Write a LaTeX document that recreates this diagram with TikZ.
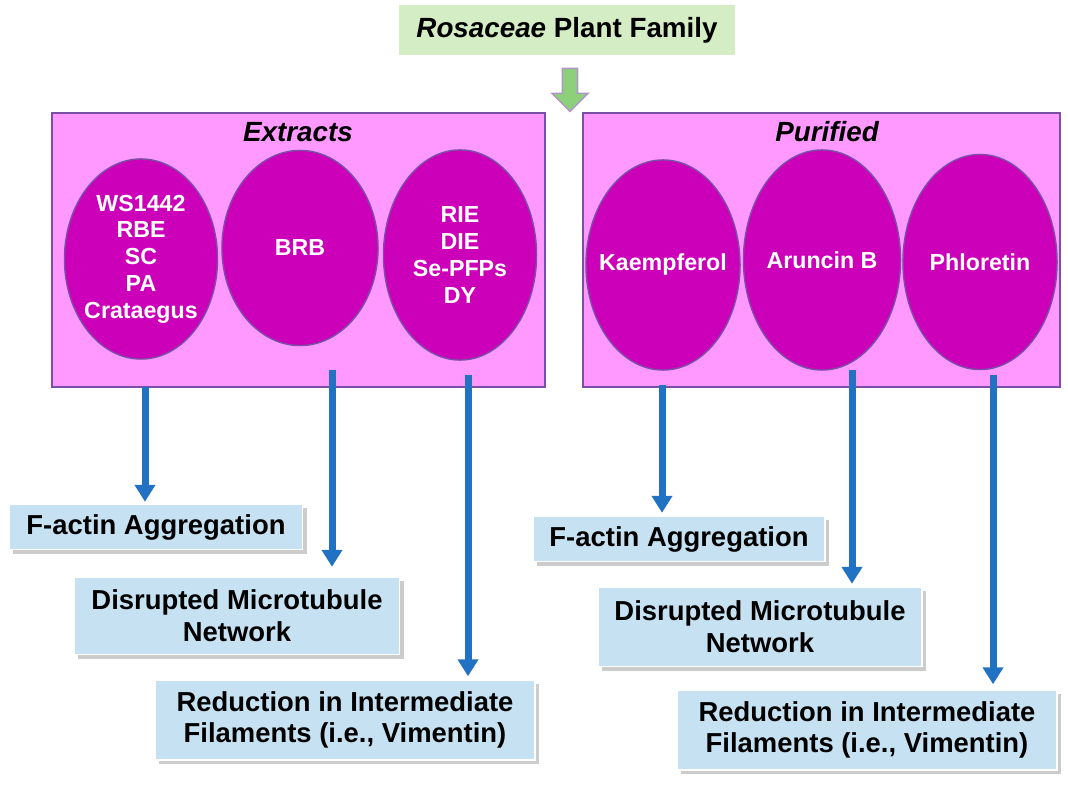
\documentclass[tikz,border=0pt]{standalone}
\usepackage{fontspec}
\setmainfont{Liberation Sans}
\usetikzlibrary{shadows,shapes.arrows,shapes.geometric,arrows.meta}
\definecolor{pinkbox}{HTML}{FF99FF}
\definecolor{ovalfill}{HTML}{CC00B8}
\definecolor{ovaledge}{HTML}{7A4FA8}
\definecolor{arrowblue}{HTML}{2272C4}
\definecolor{effectfill}{HTML}{C6E2F2}
\definecolor{titlefill}{HTML}{D4EDC4}
\definecolor{greenarrow}{HTML}{8CD17A}
\tikzset{
  group/.style={draw=ovaledge, fill=pinkbox, minimum width=#1, minimum height=2.74cm, inner sep=0pt},
  oval/.style={ellipse, draw=ovaledge, fill=ovalfill, text=white, minimum width=1.53cm, minimum height=2cm, inner sep=-3.5pt, font=\bfseries\fontsize{6.6}{7.6}\selectfont, align=center},
  effect/.style={draw=white, fill=effectfill, drop shadow={shadow xshift=0.04cm, shadow yshift=-0.04cm, fill=black!40}, font=\bfseries\fontsize{7.8}{9}\selectfont, align=center, inner sep=0pt, minimum height=#1},
  down/.style={-{Triangle[length=0.17cm,width=0.2cm]}, line width=0.07cm, draw=arrowblue}
}
\begin{document}
\begin{tikzpicture}[x=0.01cm, y=-0.01cm]
\useasboundingbox (0,0) rectangle (1068,789);
% source
\node[fill=titlefill, minimum width=3.35cm, minimum height=0.44cm, font=\bfseries\fontsize{7.9}{9}\selectfont] (family) at (567,30) {\textit{Rosaceae} Plant Family};
\node[single arrow, shape border rotate=270, draw=ovaledge!60, fill=greenarrow, minimum width=0.36cm, single arrow head extend=0.05cm, minimum height=0.43cm, inner sep=0.03cm] (go) at (570,86) {};

% the two groups
\node[group=4.93cm] (extracts) at (298.5,250) {};
\node[group=4.77cm] (purified) at (821.5,250) {};
\node[font=\bfseries\itshape\fontsize{7.9}{9}\selectfont] (extlabel) at (298,132) {Extracts};
\node[font=\bfseries\itshape\fontsize{7.9}{9}\selectfont] (purlabel) at (827,132) {Purified};

\node[oval] (e1) at (141,259) {WS1442\\RBE\\SC\\PA\\Crataegus};
\node[oval, minimum width=1.56cm, minimum height=1.95cm] (e2) at (300,248) {BRB};
\node[oval, minimum height=2.1cm] (e3) at (460,255) {RIE\\DIE\\Se-PFPs\\DY};
\node[oval, minimum width=1.54cm, minimum height=2.1cm] (p1) at (663,265) {Kaempferol};
\node[oval, minimum width=1.57cm, minimum height=2.2cm] (p2) at (822,260) {Aruncin B};
\node[oval, minimum width=1.54cm, minimum height=2.15cm] (p3) at (980,262) {Phloretin};

% outcomes
\node[effect=0.45cm, minimum width=2.93cm] (e1f) at (156,527) {F-actin Aggregation};
\node[effect=0.77cm, minimum width=3.25cm] (e2f) at (237,616) {Disrupted Microtubule\\Network};
\node[effect=0.8cm, minimum width=3.8cm] (e3f) at (345,720) {Reduction in Intermediate\\Filaments (i.e., Vimentin)};
\node[effect=0.45cm, minimum width=2.92cm] (p1f) at (679,539) {F-actin Aggregation};
\node[effect=0.79cm, minimum width=3.24cm] (p2f) at (760,627) {Disrupted Microtubule\\Network};
\node[effect=0.8cm, minimum width=3.8cm] (p3f) at (867,730) {Reduction in Intermediate\\Filaments (i.e., Vimentin)};

\coordinate (a1) at (145,387); \coordinate (a2) at (332,370); \coordinate (a3) at (468,375);
\coordinate (b1) at (662,385); \coordinate (b2) at (852,370); \coordinate (b3) at (993,375);
\draw[down] (a1) -- ([yshift=0.02cm]a1 |- e1f.north);
\draw[down] (a2) -- ([yshift=0.1cm]a2 |- e2f.north);
\draw[down] (a3) -- ([yshift=0.03cm]a3 |- e3f.north);
\draw[down] (b1) -- ([yshift=0.03cm]b1 |- p1f.north);
\draw[down] (b2) -- ([yshift=0.03cm]b2 |- p2f.north);
\draw[down] (b3) -- ([yshift=0.05cm]b3 |- p3f.north);
\end{tikzpicture}
\end{document}
